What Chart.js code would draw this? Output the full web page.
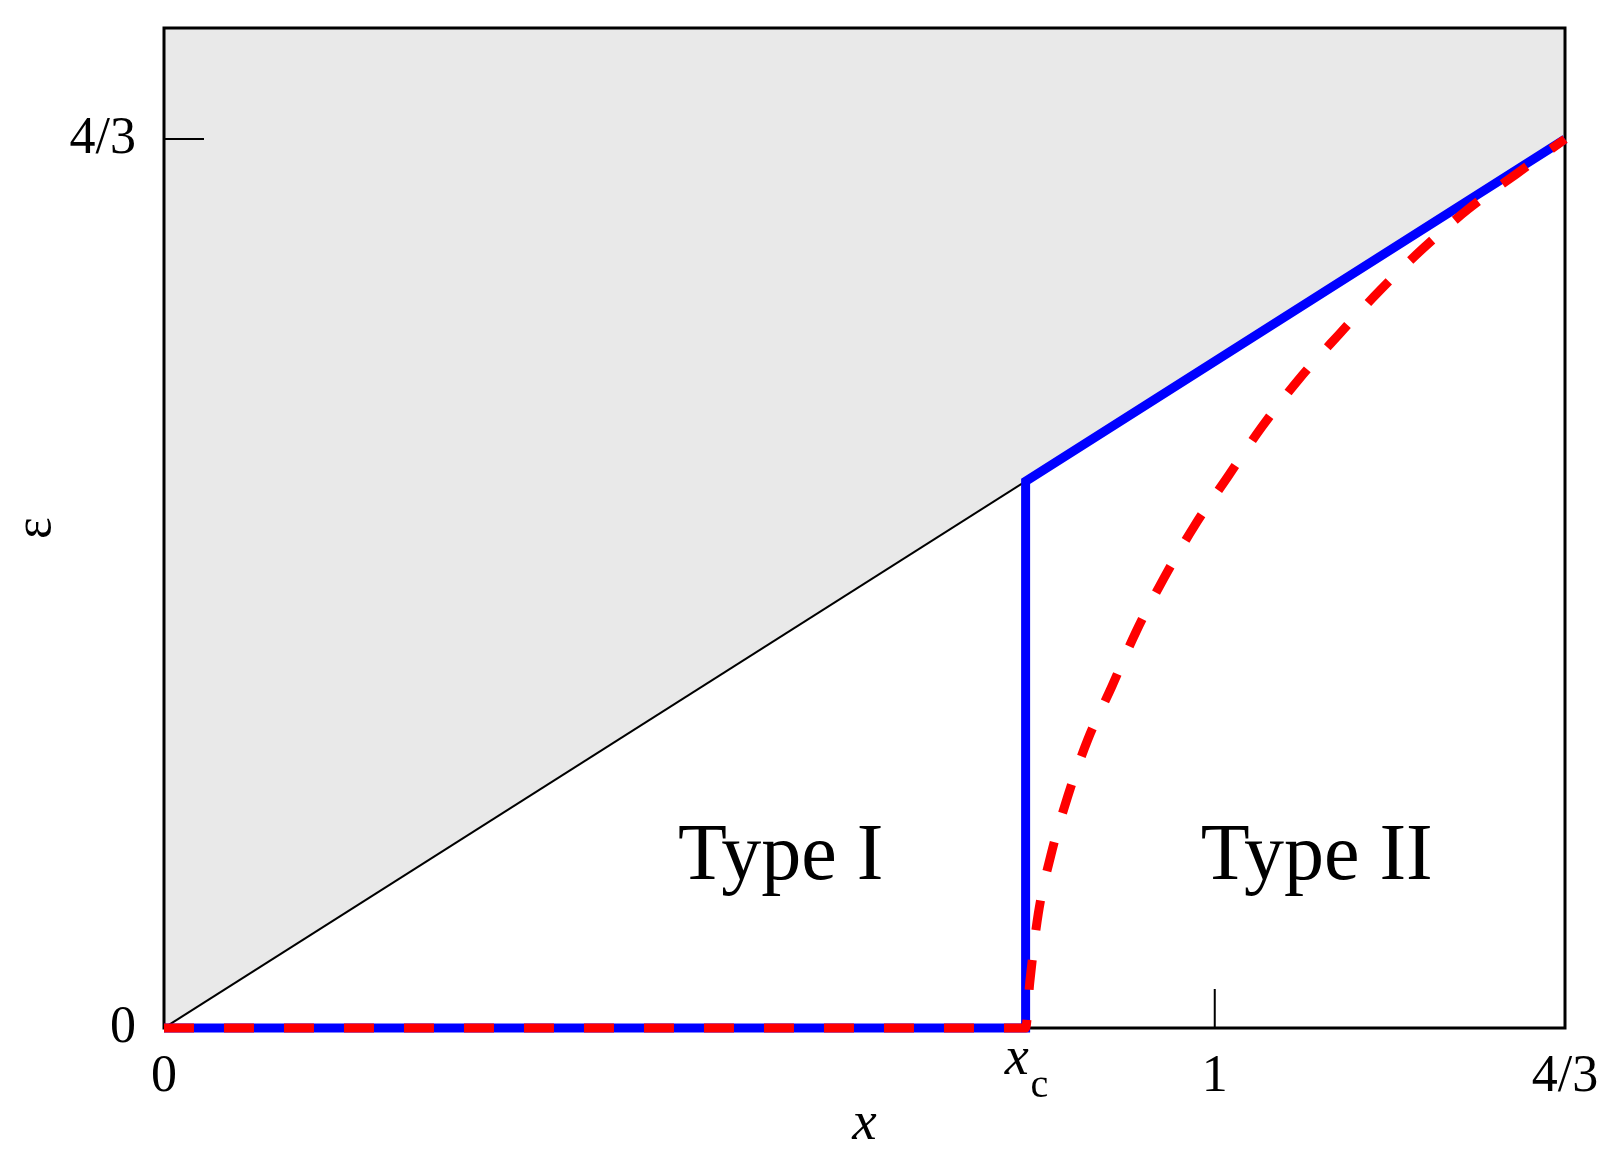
<!DOCTYPE html>
<html>
<head>
<meta charset="utf-8">
<script src="https://cdn.jsdelivr.net/npm/chart.js@4.4.1/dist/chart.umd.min.js"></script>
<style>
    body { margin: 0; background: #fff; }
</style>
</head>
<body>
<canvas id="phaseChart" width="1624" height="1176"></canvas>
<script>
// critical point on the x axis
const xc = 0.82;

// tick positions and labels
const xTickValues = [0, xc, 1, 4 / 3];
const xTickLabels = ["0", "", "1", "4/3"];
const yTickValues = [0, 4 / 3];
const yTickLabels = ["0", "4/3"];

// diagonal eps = x (boundary of the shaded region)
const diagX = [0, 4 / 3];
const diagY = [0, 4 / 3];

// blue solid boundary
const blueX = [0, xc, xc, 4 / 3];
const blueY = [0, 0, xc, 4 / 3];

// red dashed boundary
const redX = [0, xc, 0.824, 0.832, 0.844, 0.860, 0.879, 0.902, 0.925, 0.952, 0.981, 1.012, 1.045, 1.080, 1.118, 1.157, 1.198, 1.241, 1.287, 4 / 3];
const redY = [0, 0, 0.069, 0.171, 0.259, 0.347, 0.432, 0.512, 0.594, 0.676, 0.754, 0.826, 0.902, 0.973, 1.040, 1.106, 1.169, 1.228, 1.281, 4 / 3];

// region labels
const regionNames = ["Type I", "Type II"];
const regionX = [0.587, 1.097];
const regionY = [0.223, 0.223];

const toPoints = (xs, ys) => xs.map((x, i) => ({ x: x, y: ys[i] }));

// no extra room around the scales, the layout padding handles it
const noPadding = scale => {
    scale.paddingTop = 0;
    scale.paddingBottom = 0;
    scale.paddingLeft = 0;
    scale.paddingRight = 0;
};

// frame, inward ticks, x_c label and region names
const decorations = {
    id: "decorations",
    beforeDatasetsDraw(chart) {
        const { ctx, chartArea, scales } = chart;
        ctx.save();
        ctx.strokeStyle = "#000";
        ctx.lineWidth = 3;
        ctx.strokeRect(chartArea.left, chartArea.top, chartArea.right - chartArea.left, chartArea.bottom - chartArea.top);

        ctx.lineWidth = 2;
        ctx.beginPath();
        const ty = scales.y.getPixelForValue(4 / 3);
        ctx.moveTo(chartArea.left, ty);
        ctx.lineTo(chartArea.left + 40, ty);
        const tx = scales.x.getPixelForValue(1);
        ctx.moveTo(tx, chartArea.bottom);
        ctx.lineTo(tx, chartArea.bottom - 39);
        ctx.stroke();
        ctx.restore();
    },
    afterDatasetsDraw(chart) {
        const { ctx, chartArea, scales } = chart;
        ctx.save();
        ctx.fillStyle = "#000";
        ctx.textBaseline = "alphabetic";

        ctx.font = "80px 'Liberation Serif'";
        ctx.textAlign = "center";
        regionNames.forEach((name, i) => {
            ctx.fillText(name, scales.x.getPixelForValue(regionX[i]), scales.y.getPixelForValue(regionY[i]));
        });

        // x_c tick label
        const px = scales.x.getPixelForValue(xc);
        ctx.font = "italic 54px 'Liberation Serif'";
        ctx.textAlign = "center";
        ctx.fillText("x", px - 9, chartArea.bottom + 46);
        ctx.font = "40px 'Liberation Serif'";
        ctx.textAlign = "left";
        ctx.fillText("c", px + 5, chartArea.bottom + 69);
        ctx.restore();
    }
};

const ctx = document.getElementById("phaseChart").getContext("2d");
new Chart(ctx, {
    type: "line",
    data: {
        datasets: [
            {
                data: toPoints(redX, redY),
                borderColor: "#ff0000",
                borderWidth: 9,
                borderDash: [30, 30],
                cubicInterpolationMode: "monotone",
                pointRadius: 0,
                fill: false,
                clip: false,
                order: 0
            },
            {
                data: toPoints(blueX, blueY),
                borderColor: "#0000ff",
                borderWidth: 9,
                pointRadius: 0,
                tension: 0,
                fill: false,
                clip: false,
                order: 1
            },
            {
                data: toPoints(diagX, diagY),
                borderColor: "#000",
                borderWidth: 2,
                pointRadius: 0,
                tension: 0,
                fill: "end",
                backgroundColor: "#e9e9e9",
                order: 2
            }
        ]
    },
    options: {
        responsive: false,
        animation: false,
        layout: { padding: { top: 28, right: 59, left: 0, bottom: 0 } },
        plugins: {
            legend: { display: false },
            tooltip: { enabled: false },
            filler: { drawTime: "beforeDatasetsDraw" }
        },
        scales: {
            x: {
                type: "linear",
                min: 0,
                max: 4 / 3,
                grid: { display: false },
                border: { display: false },
                afterBuildTicks: scale => { scale.ticks = xTickValues.map(v => ({ value: v })); },
                afterFit: scale => { scale.height = 148; noPadding(scale); },
                ticks: {
                    autoSkip: false,
                    maxRotation: 0,
                    padding: 10,
                    color: "#000",
                    font: { family: "'Liberation Serif'", size: 52 },
                    callback: (value, index) => xTickLabels[index]
                },
                title: {
                    display: true,
                    text: "x",
                    color: "#000",
                    font: { family: "'Liberation Serif'", size: 55, style: "italic" },
                    padding: { top: 0, bottom: 18 }
                }
            },
            y: {
                type: "linear",
                min: 0,
                max: 1.5,
                grid: { display: false },
                border: { display: false },
                afterBuildTicks: scale => { scale.ticks = yTickValues.map(v => ({ value: v })); },
                afterFit: scale => { scale.width = 164; noPadding(scale); },
                ticks: {
                    padding: 20,
                    color: "#000",
                    font: { family: "'Liberation Serif'", size: 52 },
                    callback: (value, index) => yTickLabels[index]
                },
                title: {
                    display: true,
                    text: "ε",
                    color: "#000",
                    font: { family: "'Liberation Serif'", size: 52 },
                    padding: { top: 5, bottom: 0 }
                }
            }
        }
    },
    plugins: [decorations]
});
</script>
</body>
</html>
